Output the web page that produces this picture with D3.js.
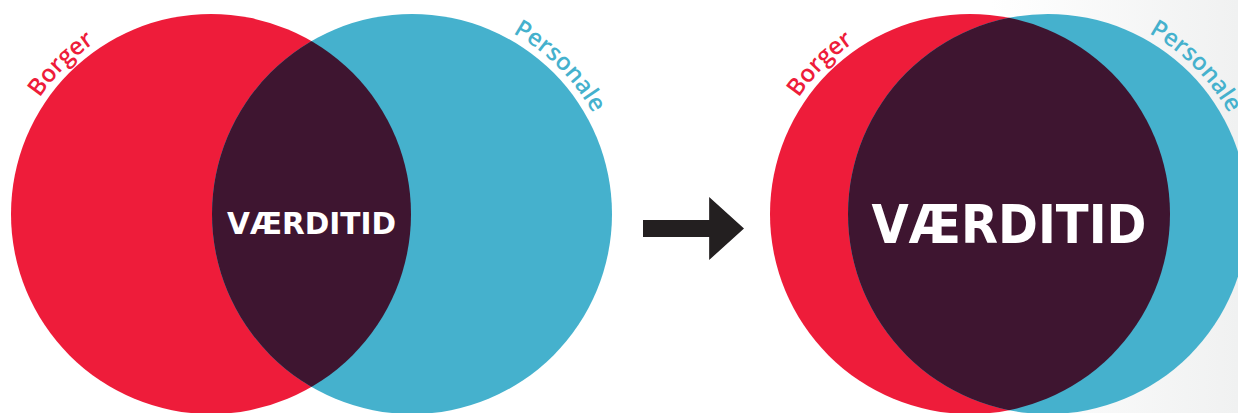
<!DOCTYPE html>
<html>
<head>
<meta charset="utf-8">
<script src="https://cdn.jsdelivr.net/npm/d3@7"></script>
<style>
  html, body { margin: 0; padding: 0; background: #fff; }
  svg { display: block; }
</style>
</head>
<body>
<div id="chart"></div>
<script>
// two sets, shown twice: small overlap -> large overlap
const sets = ["Borger", "Personale"];
const setColors = ["#ee1c3a", "#45b1cd"];
const overlapLabel = "VÆRDITID";
// centre of each circle, in circle-radius units
const stageCenters = [[1.055, 2.06], [4.85, 5.24]];
const labelSizes = [31, 54];
const labelWidths = [169, 275];

const width = 1238;
const height = 413;
const r = 200;

const x = d3.scaleLinear().domain([0, width / r]).range([0, width]);
const cy = 214;

const svg = d3.select("#chart")
  .append("svg")
  .attr("width", width)
  .attr("height", height);

const defs = svg.append("defs");
const grad = defs.append("linearGradient")
  .attr("id", "bg")
  .attr("x1", "0").attr("x2", "1").attr("y1", "0").attr("y2", "0");
grad.append("stop").attr("offset", "0.8").attr("stop-color", "#ffffff");
grad.append("stop").attr("offset", "1").attr("stop-color", "#f0f1f1");

svg.append("rect")
  .attr("width", width)
  .attr("height", height)
  .attr("fill", "url(#bg)");

// arc path for text, clockwise so letters face outward
const arcPath = (cx, rad) =>
  `M${cx - rad},${cy} A${rad},${rad} 0 0 1 ${cx + rad},${cy}`;

stageCenters.forEach((centers, s) => {
  const g = svg.append("g");
  const cxs = centers.map(x);

  g.selectAll("circle.set")
    .data(sets)
    .join("circle")
    .attr("class", "set")
    .attr("cx", (d, i) => cxs[i])
    .attr("cy", cy)
    .attr("r", r)
    .attr("fill", (d, i) => setColors[i]);

  const clipId = "clip" + s;
  defs.append("clipPath").attr("id", clipId)
    .append("circle")
    .attr("cx", cxs[0]).attr("cy", cy).attr("r", r);

  g.append("circle")
    .attr("cx", cxs[1])
    .attr("cy", cy)
    .attr("r", r)
    .attr("fill", "#3e1530")
    .attr("clip-path", `url(#${clipId})`);

  // set labels along the circles
  const baseR = 207;
  sets.forEach((name, i) => {
    const pid = `arc${s}_${i}`;
    defs.append("path").attr("id", pid).attr("d", arcPath(cxs[i], baseR));
    // angle on top half: -135deg for left set, -45deg for right
    const frac = i === 0 ? 0.25 : 0.75;
    g.append("text")
      .attr("font-family", "'Open Sans', sans-serif")
      .attr("font-weight", 600)
      .attr("font-size", 24)
      .attr("fill", setColors[i])
      .append("textPath")
      .attr("href", "#" + pid)
      .attr("startOffset", (frac * 100) + "%")
      .attr("text-anchor", "middle")
      .text(name);
  });

  const lx = (cxs[0] + cxs[1]) / 2;
  const fs = labelSizes[s];
  g.append("text")
    .attr("x", lx)
    .attr("y", cy + fs * 0.73 / 2 + (s === 0 ? 9 : 9.5))
    .attr("text-anchor", "middle")
    .attr("font-family", "'DejaVu Sans', sans-serif")
    .attr("font-weight", "bold")
    .attr("font-size", fs)
    .attr("fill", "#fff")
    .attr("textLength", labelWidths[s])
    .attr("lengthAdjust", "spacingAndGlyphs")
    .text(overlapLabel);
});

// arrow between the two stages
const ax = d3.scaleLinear().domain([0, 1]).range([643, 744]);
const ay = d3.scaleLinear().domain([-1, 1]).range([197, 260]);
const arrowPts = [[0, -0.27], [0.655, -0.27], [0.655, -1], [1, 0], [0.655, 1], [0.655, 0.27], [0, 0.27]];
svg.append("path")
  .attr("d", d3.line().x(d => ax(d[0])).y(d => ay(d[1]))(arrowPts) + "Z")
  .attr("fill", "#231f20");
</script>
</body>
</html>
